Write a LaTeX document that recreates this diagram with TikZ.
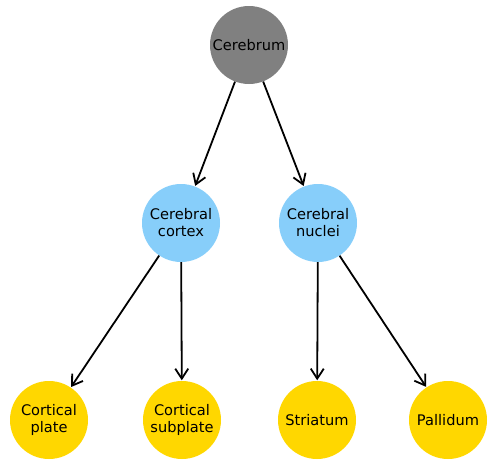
\documentclass[tikz,border=0pt]{standalone}
\usepackage{fontspec}
\setmainfont{DejaVu Sans}
\usetikzlibrary{arrows.meta}
\definecolor{cgray}{HTML}{808080}
\definecolor{cblue}{HTML}{87CEFA}
\definecolor{cgold}{HTML}{FFD700}
\begin{document}
\begin{tikzpicture}[x=1pt,y=-1pt,
  nd/.style={circle,minimum size=78pt,inner sep=0pt,align=center,
    font=\fontsize{14.6pt}{17pt}\selectfont},
  gnode/.style={nd,fill=cgray},
  bnode/.style={nd,fill=cblue},
  ynode/.style={nd,fill=cgold},
  edge/.style={line width=1.8pt,-{Straight Barb[length=10pt,width=13pt,line width=1.8pt]},shorten >=0.5pt}]
\useasboundingbox (0,0) rectangle (496,467);
\node[gnode] (cerebrum) at (249,45) {Cerebrum};
\node[bnode] (cortex) at (181,223) {Cerebral\\cortex};
\node[bnode] (nuclei) at (318,223) {Cerebral\\nuclei};
\node[ynode] (plate) at (49,420) {Cortical\\plate};
\node[ynode] (subplate) at (182,420) {Cortical\\subplate};
\node[ynode] (striatum) at (317,420) {Striatum};
\node[ynode] (pallidum) at (448,420) {Pallidum};
\draw[edge] (cerebrum) -- (cortex);
\draw[edge] (cerebrum) -- (nuclei);
\draw[edge] (cortex) -- (plate);
\draw[edge] (cortex) -- (subplate);
\draw[edge] (nuclei) -- (striatum);
\draw[edge] (nuclei) -- (pallidum);
\end{tikzpicture}
\end{document}
